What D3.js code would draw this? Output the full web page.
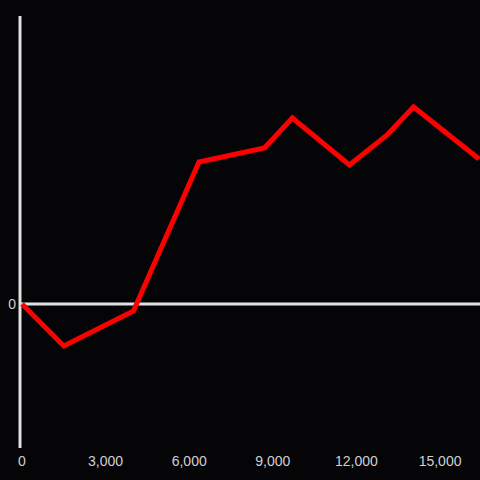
<!DOCTYPE html>
<html>
<head>
<meta charset="utf-8">
<script src="https://cdn.jsdelivr.net/npm/d3@7"></script>
<style>
  html, body { margin: 0; padding: 0; background: #050407; }
</style>
</head>
<body>
<div id="chart"></div>
<script>
// series values
const xValues = [0, 1500, 4000, 6350, 8700, 9700, 11750, 13100, 14050, 16400];
const yValues = [0, -42, -7, 142, 156, 186, 139, 169, 197, 145];
const xTicks = [0, 3000, 6000, 9000, 12000, 15000];
const yTicks = [0];

const width = 480, height = 480;
const axisColor = '#e0e0e0';
const labelColor = '#d0d0d0';

const svg = d3.select('#chart')
  .append('svg')
  .attr('width', width)
  .attr('height', height)
  .style('background', '#050407');

const x = d3.scaleLinear().domain([0, 16433]).range([22, 480]);
const y = d3.scaleLinear().domain([-144, 288]).range([448, 16]);

// y axis line
svg.append('line')
  .attr('x1', 20).attr('x2', 20)
  .attr('y1', 16).attr('y2', 448)
  .attr('stroke', axisColor)
  .attr('stroke-width', 3);

// zero line
svg.append('line')
  .attr('x1', 20).attr('x2', width)
  .attr('y1', y(0)).attr('y2', y(0))
  .attr('stroke', axisColor)
  .attr('stroke-width', 3);

// y tick labels
svg.selectAll('text.ylab')
  .data(yTicks)
  .enter().append('text')
  .attr('class', 'ylab')
  .attr('x', 16)
  .attr('y', d => y(d))
  .attr('dy', '0.35em')
  .attr('text-anchor', 'end')
  .attr('fill', labelColor)
  .style('font-family', 'Liberation Sans, Arial, sans-serif')
  .style('font-size', '14px')
  .text(d => d3.format(',')(d));

// x tick labels
svg.selectAll('text.xlab')
  .data(xTicks)
  .enter().append('text')
  .attr('class', 'xlab')
  .attr('x', d => x(d))
  .attr('y', 461)
  .attr('dy', '0.35em')
  .attr('text-anchor', 'middle')
  .attr('fill', labelColor)
  .style('font-family', 'Liberation Sans, Arial, sans-serif')
  .style('font-size', '14px')
  .text(d => d3.format(',')(d));

const points = xValues.map((v, i) => [v, yValues[i]]);

const valueLine = d3.line()
  .x(d => x(d[0]))
  .y(d => y(d[1]));

svg.append('path')
  .datum(points)
  .attr('fill', 'none')
  .attr('stroke', '#ff0000')
  .attr('stroke-width', 5)
  .attr('stroke-linejoin', 'miter')
  .attr('d', valueLine);
</script>
</body>
</html>
